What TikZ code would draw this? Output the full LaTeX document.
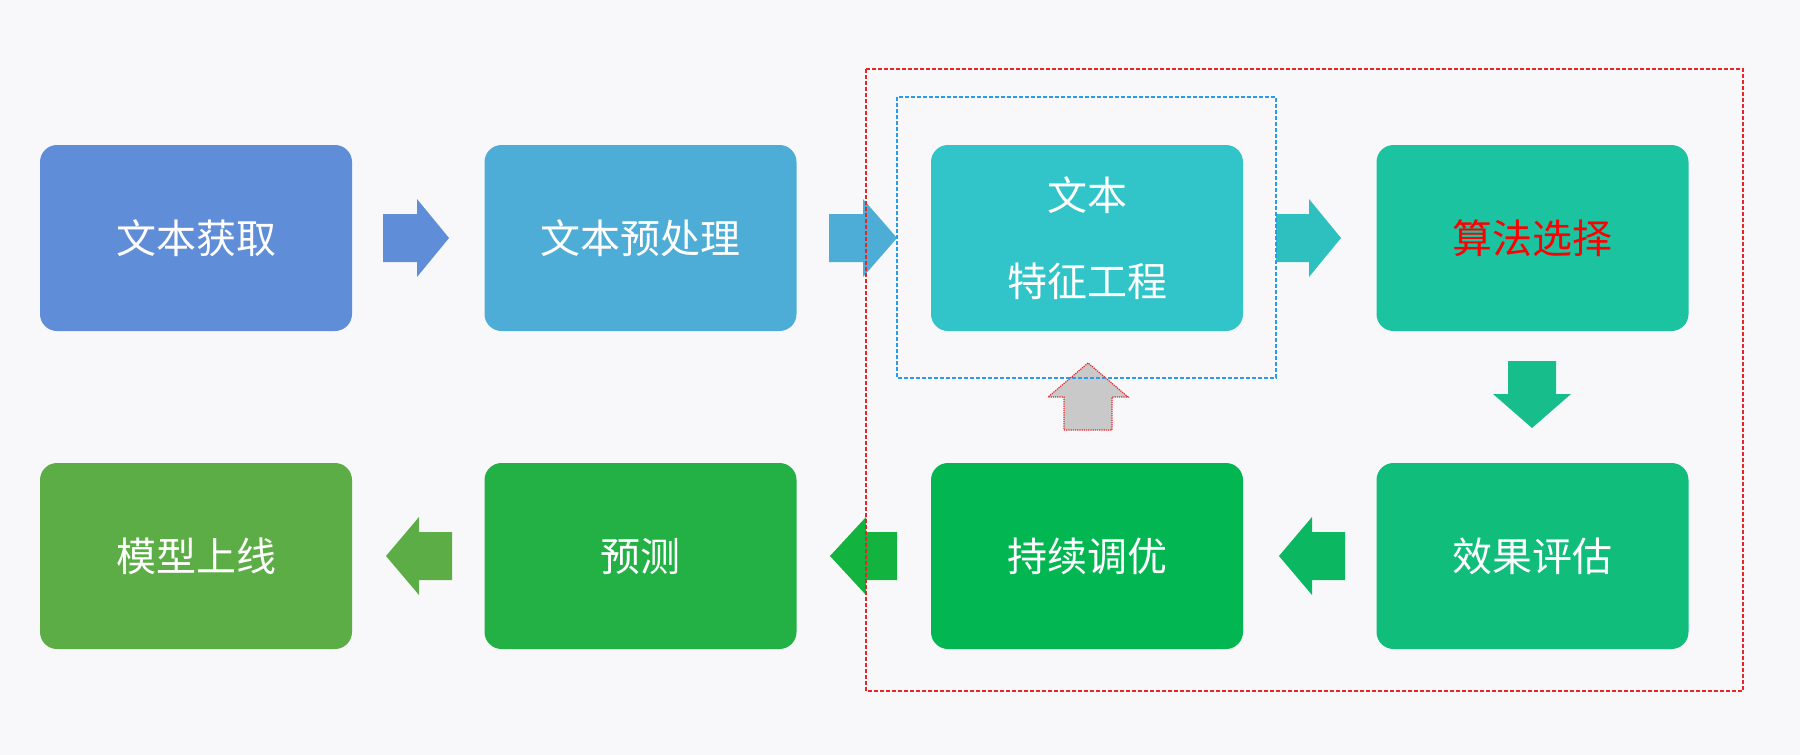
\documentclass[tikz,border=0pt]{standalone}
\usepackage{fontspec}
\newfontfamily\cjk{Noto Sans CJK SC}
\definecolor{bg}{HTML}{F8F8FA}
\definecolor{cA}{HTML}{5F8DD8}
\definecolor{cB}{HTML}{4DADD6}
\definecolor{cC}{HTML}{31C4C9}
\definecolor{cCa}{HTML}{2EC0BE}
\definecolor{cD}{HTML}{1BC3A1}
\definecolor{cDa}{HTML}{17BE8C}
\definecolor{cE}{HTML}{10BD7B}
\definecolor{cEa}{HTML}{0BB760}
\definecolor{cF}{HTML}{02B751}
\definecolor{cFa}{HTML}{12B33F}
\definecolor{cG}{HTML}{23B146}
\definecolor{cH}{HTML}{5CAD46}
\definecolor{grayarrow}{HTML}{C9C9C9}
\definecolor{reddash}{HTML}{E8262A}
\definecolor{bluedash}{HTML}{2B9BE8}
\newcommand\blkRight[4]{% start x, base x, tip x, color ; center y 238
  \fill[#4] (#1,214) -- (#2,214) -- (#2,199) -- (#3,238) -- (#2,277) -- (#2,262) -- (#1,262) -- cycle;}
\newcommand\blkLeft[4]{% tip x, base x, end x, color ; center y 556
  \fill[#4] (#3,532) -- (#2,532) -- (#2,517) -- (#1,556) -- (#2,595) -- (#2,580) -- (#3,580) -- cycle;}
\begin{document}
\begin{tikzpicture}[x=1pt,y=-1pt,
  stage/.style={rectangle, rounded corners=17pt, minimum width=312pt, minimum height=186pt,
    inner sep=0pt, text=white, font=\cjk\fontsize{40}{48}\selectfont, align=center},
  dashbox/.style={line width=1.6pt, dash pattern=on 4pt off 2pt}]
\useasboundingbox (0,0) rectangle (1800,755);
\fill[bg] (0,0) rectangle (1800,755);
% row 1
\node[stage, fill=cA] (get) at (196,238) {文本获取};
\node[stage, fill=cB] (pre) at (640.5,238) {文本预处理};
\node[stage, fill=cC, font=\cjk\fontsize{40}{86}\selectfont] (feat) at (1087,238) {文本\\特征工程};
\node[stage, fill=cD, text=red] (algo) at (1532.5,238) {算法选择};
% row 2
\node[stage, fill=cH] (deploy) at (196,556) {模型上线};
\node[stage, fill=cG] (pred) at (640.5,556) {预测};
\node[stage, fill=cF] (tune) at (1087,556) {持续调优};
\node[stage, fill=cE] (eval) at (1532.5,556) {效果评估};
% arrows
\blkRight{383}{417}{449}{cA}
\blkRight{829}{863}{897}{cB}
\blkRight{1276}{1309}{1341}{cCa}
\fill[cDa] (1508,361) -- (1556,361) -- (1556,394) -- (1571,394) -- (1532,428) -- (1493,394) -- (1508,394) -- cycle;
\blkLeft{1279}{1312}{1345}{cEa}
\blkLeft{830}{866}{897}{cFa}
\blkLeft{386}{419}{452}{cH}
\filldraw[fill=grayarrow, draw=reddash, line width=1.2pt, densely dotted]
  (1064,430) -- (1112,430) -- (1112,397) -- (1128,397) -- (1088,363) -- (1048,397) -- (1064,397) -- cycle;
% dashed boxes
\draw[dashbox, draw=bluedash] (897,97) rectangle (1276,378);
\draw[dashbox, draw=reddash] (866,69) rectangle (1743,691);
\end{tikzpicture}
\end{document}
